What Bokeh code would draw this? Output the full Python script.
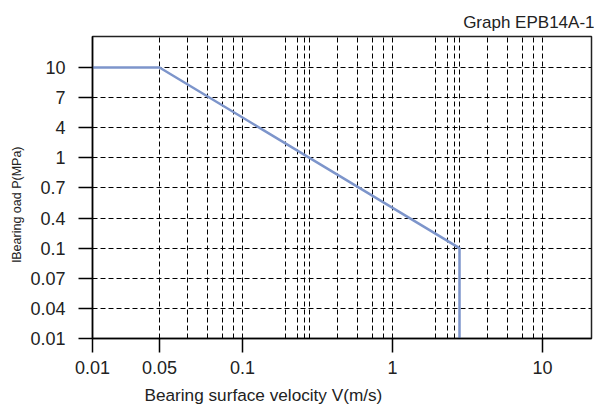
import numpy as np
from bokeh.plotting import figure
from bokeh.models import Range1d, FixedTicker, Title
from bokeh.embed import file_html
from bokeh.resources import INLINE

# Allowable bearing load vs. surface velocity (PV limit curve)
VELOCITY = [0.01, 0.05, 5, 5]        # m/s
LOAD = [10, 10, 0.1, 0.01]           # MPa

# Axis tick labels
X_TICKS = [0.01, 0.05, 0.1, 1, 10]
X_TICK_LABELS = ["0.01", "0.05", "0.1", "1", "10"]
Y_TICKS = [10, 7, 4, 1, 0.7, 0.4, 0.1, 0.07, 0.04, 0.01]
Y_TICK_LABELS = ["10", "7", "4", "1", "0.7", "0.4", "0.1", "0.07", "0.04", "0.01"]

# Vertical grid lines (m/s)
X_GRID = [0.05, 0.06, 0.07, 0.08, 0.09, 0.1,
          0.2, 0.3, 0.4, 0.5, 0.6, 0.7, 0.8, 0.9, 1,
          2, 3, 4, 5, 6, 7, 8, 9, 10]

# Graph-paper spacing of the mantissas 1..10 within one decade (fraction of a decade)
MANTISSA = np.arange(1, 11)
DECADE_SPACING = np.array([0, 43, 55, 62, 67, 95, 115, 130, 141, 150]) / 150.0
FIRST_DECADE = -2


def xpos(v):
    """Velocity -> position on the graph-paper axis (one unit per decade)."""
    v = np.asarray(v, dtype=float)
    d = np.floor(np.log10(v) + 1e-9)
    m = v / 10.0 ** d
    return np.round((d - FIRST_DECADE) + np.interp(m, MANTISSA, DECADE_SPACING), 4)


def ypos(p):
    """Load -> row index of the evenly spaced load scale (0 at the bottom)."""
    rows = Y_TICKS[::-1]
    return [float(rows.index(x)) for x in p]


FONT = "Liberation Sans"
TEXT = "#222222"

p = figure(width=594, height=411,
           x_range=Range1d(0, 3.3267), y_range=Range1d(0, 10.03),
           output_backend="svg", toolbar_location=None,
           min_border_left=92, min_border_right=3,
           min_border_top=36, min_border_bottom=73)

p.title.text = "Graph EPB14A-1"
p.title.align = "right"
p.title.offset = -3
p.title.text_font = FONT
p.title.text_font_size = "17px"
p.title.text_font_style = "normal"
p.title.text_color = TEXT
p.title.standoff = 10

p.outline_line_color = "#222222"
p.outline_line_width = 1.5
p.background_fill_color = "white"
p.border_fill_color = "white"

# dashed graph-paper grid
xt = [float(v) for v in xpos(X_GRID)]
p.xgrid.ticker = FixedTicker(ticks=xt)
p.ygrid.ticker = FixedTicker(ticks=[float(i) for i in range(1, len(Y_TICKS))])
for g in (p.xgrid, p.ygrid):
    g.grid_line_color = "black"
    g.grid_line_width = 1
    g.grid_line_dash = "5 3"

# axes
x_tick_pos = [float(v) for v in xpos(X_TICKS)]
p.xaxis.ticker = FixedTicker(ticks=x_tick_pos)
p.xaxis.major_label_overrides = {t: lab for t, lab in zip(x_tick_pos, X_TICK_LABELS)}
y_tick_pos = ypos(Y_TICKS)
p.yaxis.ticker = FixedTicker(ticks=y_tick_pos)
p.yaxis.major_label_overrides = {t: lab for t, lab in zip(y_tick_pos, Y_TICK_LABELS)}

for ax in (p.xaxis[0], p.yaxis[0]):
    ax.axis_line_color = "black"
    ax.axis_line_width = 1.5
    ax.major_tick_line_color = "black"
    ax.major_tick_line_width = 1.5
    ax.major_tick_out = 14
    ax.major_tick_in = 0
    ax.minor_tick_out = 0
    ax.minor_tick_in = 0
    ax.major_label_text_font = FONT
    ax.major_label_text_font_size = "18px"
    ax.major_label_text_color = TEXT
    ax.major_label_standoff = 6

p.xaxis.major_label_standoff = 8

# load labels are centred in their column
p.yaxis.major_label_text_align = "center"
p.yaxis.major_label_standoff = 13

# axis titles, placed off-centre along their axes
p.add_layout(Title(text="Bearing surface velocity V(m/s)", align="left", offset=52,
                   text_font=FONT, text_font_size="17.2px", text_font_style="normal",
                   text_color=TEXT, standoff=12), "below")
p.add_layout(Title(text="lBearing oad P(MPa)", align="left", offset=76,
                   text_font=FONT, text_font_size="12.5px", text_font_style="normal",
                   text_color=TEXT, standoff=7), "left")

p.line(xpos(VELOCITY), ypos(LOAD), line_color="#7d95cb", line_width=2.5)

open("out.html", "w").write(file_html(p, INLINE))
